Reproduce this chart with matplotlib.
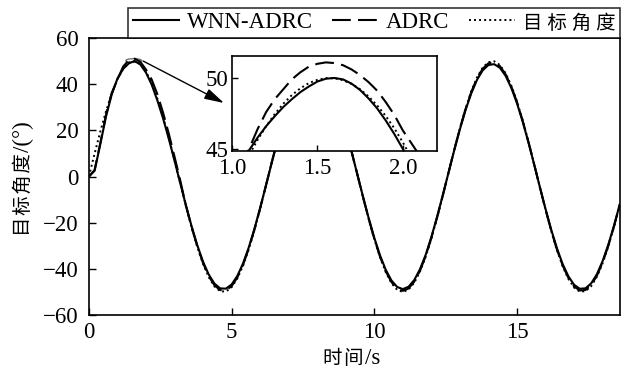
import matplotlib
matplotlib.use("Agg")
import matplotlib.pyplot as plt
from matplotlib.patches import Ellipse
from matplotlib.ticker import FormatStrFormatter

FONT = ['Liberation Serif', 'Noto Sans CJK SC', 'DejaVu Serif']
plt.rcParams['font.family'] = FONT

# ---- data ----
t = [round(0.2 * i, 1) for i in range(94)]

target = [0.0, 9.93, 19.47, 28.23, 35.87, 42.07, 46.60, 49.27, 49.98, 48.69,
          45.46, 40.43, 33.77, 25.78, 16.75, 7.06, -2.92, -12.78, -22.13, -30.59,
          -37.84, -43.58, -47.58, -49.68, -49.81, -47.95, -44.17, -38.64, -31.56, -23.23,
          -13.97, -4.15, 5.83, 15.58, 24.71, 32.85, 39.68, 44.94, 48.40, 49.93,
          49.47, 47.04, 42.73, 36.72, 29.25, 20.61, 11.14, 1.24, -8.72, -18.32,
          -27.20, -34.99, -41.39, -46.14, -49.05, -50.00, -48.96, -45.98, -41.19, -34.80,
          -26.83, -17.91, -8.28, 1.68, 11.58, 21.01, 29.60, 37.02, 42.96, 47.18,
          49.53, 49.90, 48.29, 44.74, 39.41, 32.51, 24.34, 15.19, 5.38, -4.60,
          -14.40, -23.64, -31.90, -38.89, -44.31, -48.07, -49.86, -49.65, -47.46, -43.37,
          -37.55, -30.25, -21.74, -12.37]

wnn_adrc = [0.0, 2.5, 14.0, 26.0, 35.5, 42.4, 46.6, 49.0, 50.0, 48.55,
            45.0, 39.8, 32.93, 25.14, 16.33, 6.88, -2.85, -12.46, -21.58, -29.83,
            -36.89, -42.49, -46.39, -48.44, -48.56, -46.75, -43.07, -37.67, -30.77, -22.65,
            -13.62, -4.05, 5.68, 15.19, 24.09, 32.03, 38.69, 43.82, 47.19, 48.68,
            48.23, 45.86, 41.66, 35.80, 28.52, 20.09, 10.86, 1.21, -8.50, -17.86,
            -26.52, -34.12, -40.36, -44.99, -47.82, -48.75, -47.74, -44.83, -40.16, -33.93,
            -26.16, -17.46, -8.07, 1.64, 11.29, 20.48, 28.86, 36.09, 41.89, 46.00,
            48.29, 48.65, 47.08, 43.62, 38.42, 31.70, 23.73, 14.81, 5.25, -4.49,
            -14.04, -23.05, -31.10, -37.92, -43.20, -46.87, -48.61, -48.41, -46.27, -42.29,
            -36.61, -29.49, -21.20, -12.06]

adrc = [0.0, 2.8, 14.5, 26.8, 36.2, 42.0, 47.6, 50.4, 51.05, 49.7,
        46.3, 42.0, 35.6, 27.6, 18.5, 8.6, -1.6, -12.65, -21.91, -30.28,
        -37.46, -43.14, -47.10, -49.18, -49.31, -47.47, -43.73, -38.25, -31.24, -23.00,
        -13.83, -4.11, 5.77, 15.42, 24.46, 32.52, 39.28, 44.49, 47.92, 49.43,
        48.98, 46.57, 42.30, 36.35, 28.96, 20.40, 11.03, 1.23, -8.63, -18.14,
        -26.93, -34.64, -40.98, -45.68, -48.56, -49.50, -48.47, -45.52, -40.78, -34.45,
        -26.56, -17.73, -8.20, 1.66, 11.46, 20.80, 29.30, 36.65, 42.53, 46.71,
        49.03, 49.40, 47.81, 44.29, 39.02, 32.18, 24.10, 15.04, 5.33, -4.55,
        -14.26, -23.40, -31.58, -38.50, -43.87, -47.59, -49.36, -49.15, -46.99, -42.94,
        -37.17, -29.95, -21.52, -12.25]

# zoomed detail around the first peak
t_zoom = [round(1.0 + 0.05 * i, 2) for i in range(25)]
target_zoom = [42.07, 43.37, 44.56, 45.64, 46.60, 47.45, 48.18, 48.79, 49.27, 49.64,
               49.87, 49.99, 49.98, 49.84, 49.58, 49.20, 48.69, 48.06, 47.32, 46.45,
               45.46, 44.37, 43.16, 41.85, 40.43]
wnn_zoom = [42.4, 43.7, 44.9, 45.8, 46.6, 47.3, 47.95, 48.5, 49.0, 49.4,
            49.75, 49.95, 50.0, 49.9, 49.6, 49.15, 48.55, 47.85, 47.0, 46.05,
            45.0, 43.85, 42.6, 41.2, 39.8]
adrc_zoom = [42.0, 43.6, 45.0, 46.4, 47.6, 48.5, 49.2, 49.9, 50.4, 50.8,
             51.0, 51.1, 51.05, 50.9, 50.6, 50.2, 49.7, 49.1, 48.3, 47.4,
             46.3, 45.4, 44.5, 43.3, 42.0]

HS = '\u200a'  # hair space (letter spacing of the CJK text)
labels = ['WNN-ADRC', 'ADRC', '目 标 角 度']
xlabel_cjk, xlabel_unit = '时' + HS + '间', '/s'
ylabel_cjk, ylabel_unit = HS.join('目标角度'), '/(°)'
xticks = [0, 5, 10, 15]
yticks = [-60, -40, -20, 0, 20, 40, 60]

W, H = 626, 372
# ---- figure ----
fig = plt.figure(figsize=(W / 100, H / 100), dpi=100)
ax = fig.add_axes([0.142, 0.153, 0.848, 0.745])

ls_solid = dict(color='black', lw=1.5, linestyle='-')
ls_dash = dict(color='black', lw=1.5, linestyle=(0, (9, 3.5)))
ls_dot = dict(color='black', lw=1.4, linestyle=(0, (1, 1.6)))

l1, = ax.plot(t, wnn_adrc, **ls_solid, label=labels[0])
l2, = ax.plot(t, adrc, **ls_dash, label=labels[1])
l3, = ax.plot(t, target, **ls_dot, label=labels[2])

ax.set_xlim(0, 18.6)
ax.set_ylim(-60, 60)
ax.set_xticks(xticks)
ax.set_yticks(yticks)
ax.tick_params(direction='in', length=5, width=1, labelsize=16.5, top=False, right=False)
ax.tick_params(axis='y', pad=7.5)
ax.tick_params(axis='x', pad=5)
for s in ax.spines.values():
    s.set_linewidth(1.2)

# axis titles: CJK part and unit part (unit in the serif face at tick size)
fig.text(364 / W, 1 - 364 / H, xlabel_cjk, fontsize=14, ha='right', va='baseline')
fig.text(365 / W, 1 - 364 / H, xlabel_unit, fontsize=16.5, ha='left', va='baseline')
fig.text(29 / W, 1 - 153 / H, ylabel_cjk, fontsize=14, rotation=90,
         rotation_mode='anchor', ha='right', va='baseline')
fig.text(29 / W, 1 - 152 / H, ylabel_unit, fontsize=16.5, rotation=90,
         rotation_mode='anchor', ha='left', va='baseline')

# marker ellipse at first peak
ax.add_patch(Ellipse((1.57, 50.2), 0.55, 1.6, fill=False, edgecolor='0.45', lw=1.0))

# arrow to inset
ax.annotate('', xy=(224 / W, 1 - 103 / H), xycoords='figure fraction',
            xytext=(1.9, 50.0), textcoords='data',
            arrowprops=dict(arrowstyle='-|>,head_length=0.8,head_width=0.22', color='black',
                            lw=1.0, mutation_scale=15, shrinkA=0, shrinkB=0))

# inset
axi = fig.add_axes([232 / W, 1 - 151 / H, 205 / W, 95 / H])
axi.plot(t_zoom, wnn_zoom, **ls_solid)
axi.plot(t_zoom, adrc_zoom, **ls_dash)
axi.plot(t_zoom, target_zoom, **ls_dot)
axi.set_xlim(1.0, 2.2)
axi.set_ylim(44.85, 51.55)
axi.set_xticks([1.0, 1.5, 2.0])
axi.set_yticks([45, 50])
axi.xaxis.set_major_formatter(FormatStrFormatter('%.1f'))
axi.tick_params(direction='in', length=4, width=1, labelsize=16.5)
axi.tick_params(axis='x', pad=5)
axi.tick_params(axis='y', pad=2.5)
for s in axi.spines.values():
    s.set_linewidth(1.2)

# legend
leg = fig.legend(handles=[l1, l2, l3], labels=labels, loc='lower right',
                 bbox_to_anchor=(620 / W, 1 - 38 / H),
                 ncol=3, frameon=True, fancybox=False, borderaxespad=0,
                 fontsize=16.5, handlelength=2.0, handletextpad=0.35, columnspacing=0.85,
                 borderpad=0.2)
leg.get_texts()[2].set_fontsize(14)
leg.get_frame().set_edgecolor('black')
leg.get_frame().set_linewidth(1.2)

fig.savefig('out.png', dpi=100)
